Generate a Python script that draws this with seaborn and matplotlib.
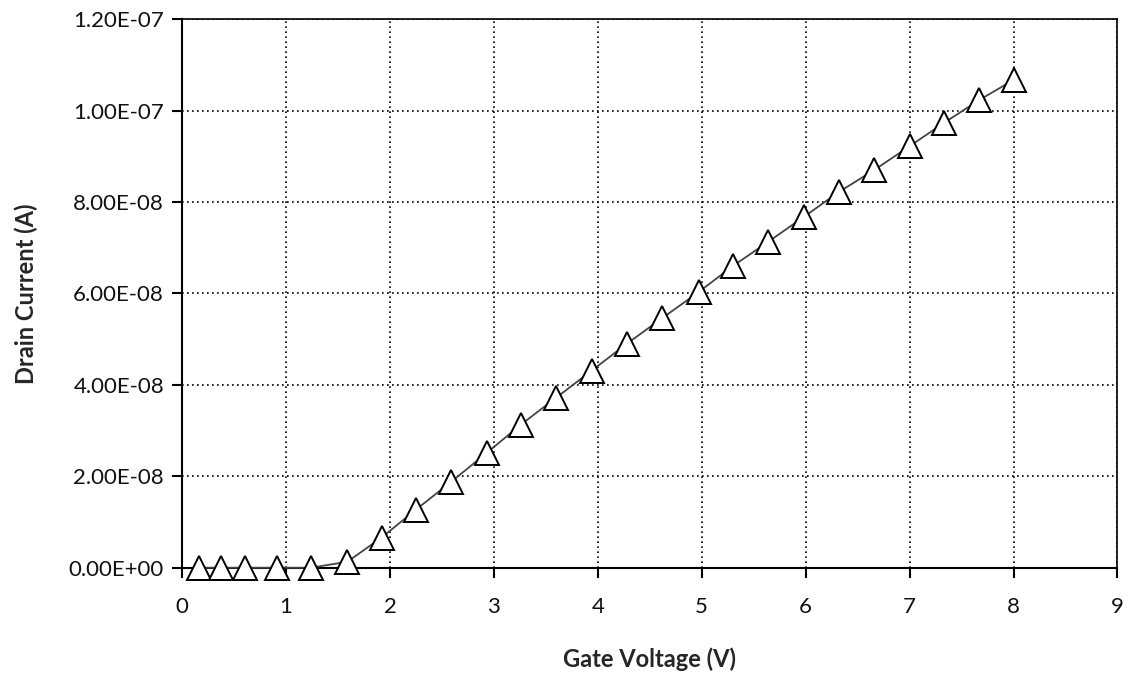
import numpy as np
import pandas as pd
import matplotlib
matplotlib.use("Agg")
import matplotlib.pyplot as plt
import seaborn as sns
from matplotlib.ticker import FuncFormatter, MultipleLocator

# measured transfer curve
gate_voltage = [0.16, 0.37, 0.61, 0.91, 1.24, 1.59, 1.92, 2.25, 2.59, 2.93,
                3.26, 3.60, 3.94, 4.28, 4.62, 4.97, 5.30, 5.64, 5.98, 6.32,
                6.66, 7.00, 7.33, 7.67, 8.00]
drain_current = [0.0, 0.0, 0.0, 0.0, 0.0, 0.13e-8, 0.66e-8, 1.27e-8, 1.88e-8, 2.51e-8,
                 3.13e-8, 3.72e-8, 4.31e-8, 4.90e-8, 5.46e-8, 6.03e-8, 6.60e-8, 7.13e-8,
                 7.67e-8, 8.22e-8, 8.70e-8, 9.22e-8, 9.73e-8, 10.23e-8, 10.67e-8]

df = pd.DataFrame({"Vg": gate_voltage, "Id": drain_current})

sns.set_style("white")
plt.rcParams["font.family"] = ["Lato", "DejaVu Sans"]

fig = plt.figure(figsize=(11.31, 6.84), dpi=100)
ax = fig.add_axes([0.161, 0.170, 0.827, 0.802])

sns.lineplot(data=df, x="Vg", y="Id", ax=ax, color="#444444", linewidth=1.3,
             marker="^", markersize=17, markerfacecolor="white",
             markeredgecolor="black", markeredgewidth=1.4, zorder=3, clip_on=False)

ax.set_xlim(0, 9)
ax.set_ylim(0, 1.2e-7)
ax.xaxis.set_major_locator(MultipleLocator(1))
ax.yaxis.set_major_locator(MultipleLocator(2e-8))
ax.yaxis.set_major_formatter(FuncFormatter(lambda v, p: f"{v:.2E}" if v != 0 else "0.00E+00"))

ax.grid(True, color="black", linestyle=(0, (1, 2)), linewidth=1.2)
for s in ax.spines.values():
    s.set_color("black")
    s.set_linewidth(1.5)
ax.spines["right"].set_linewidth(1.2)
ax.spines["top"].set_linewidth(1.2)
ax.tick_params(axis="both", bottom=True, left=True, direction="out", length=7,
               width=1.5, color="black", labelsize=16, labelcolor="#111111", pad=6)
ax.tick_params(axis="x", pad=14)

ax.set_xlabel("Gate Voltage (V)", fontsize=17, fontweight="bold", labelpad=22)
ax.set_ylabel("Drain Current (A)", fontsize=17, fontweight="bold", labelpad=22)

fig.savefig("out.png", dpi=100)
